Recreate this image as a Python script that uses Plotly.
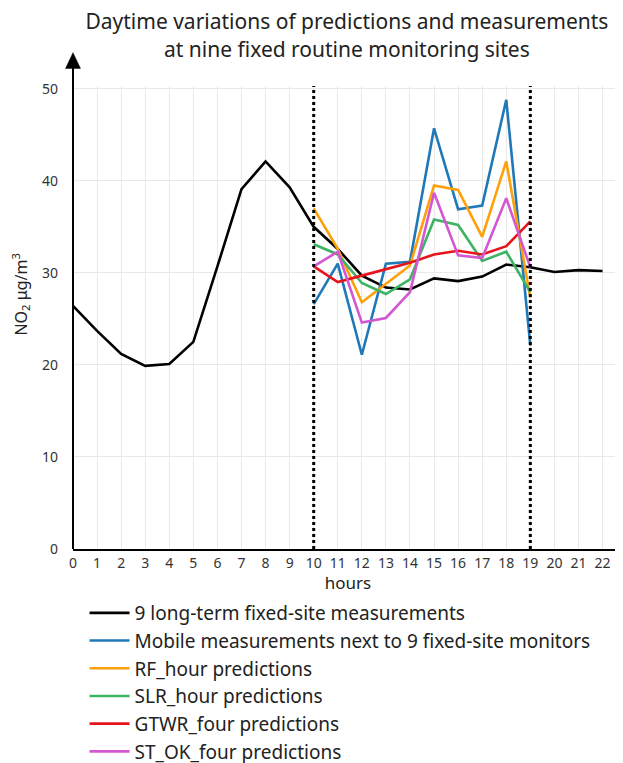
import plotly.graph_objects as go

hours_all = list(range(0, 23))
hours_mid = list(range(10, 20))

fixed_site = [26.4, 23.7, 21.2, 19.9, 20.1, 22.5, 30.7, 39.1, 42.1, 39.3, 35.0,
              32.6, 29.7, 28.4, 28.2, 29.4, 29.1, 29.6, 30.9, 30.6, 30.1, 30.3, 30.2]
mobile = [26.6, 31.0, 21.1, 31.0, 31.2, 45.7, 36.9, 37.3, 48.8, 22.1]
rf_hour = [37.0, 32.6, 26.8, 28.8, 30.8, 39.5, 39.0, 33.9, 42.1, 27.3]
slr_hour = [33.1, 32.0, 28.9, 27.7, 29.3, 35.8, 35.2, 31.3, 32.3, 27.9]
gtwr_four = [30.7, 29.0, 29.7, 30.4, 31.1, 32.0, 32.4, 32.0, 32.9, 35.6]
st_ok_four = [30.7, 32.3, 24.6, 25.1, 27.9, 38.7, 31.9, 31.6, 38.1, 30.6]

series = [
    ("9 long-term fixed-site measurements", hours_all, fixed_site, "#000000"),
    ("Mobile measurements next to 9 fixed-site monitors", hours_mid, mobile, "#1f78b8"),
    ("RF_hour predictions", hours_mid, rf_hour, "#ffa00a"),
    ("SLR_hour predictions", hours_mid, slr_hour, "#3cb464"),
    ("GTWR_four predictions", hours_mid, gtwr_four, "#e8141c"),
    ("ST_OK_four predictions", hours_mid, st_ok_four, "#d257d0"),
]

fig = go.Figure()
for i, (name, x, y, c) in enumerate(series):
    fig.add_trace(go.Scatter(x=x, y=y, mode="lines", name=name,
                             line=dict(color=c, width=2.6),
                             legendgroup=f"g{i}"))

# dotted vertical markers at 10 and 19
for xv in (10, 19):
    fig.add_shape(type="line", xref="x", yref="paper", x0=xv, x1=xv, y0=0, y1=1,
                  line=dict(color="black", width=3, dash="dot"))

# y axis arrow
fig.add_shape(type="line", xref="paper", yref="paper", x0=0, x1=0, y0=0, y1=1.045,
              line=dict(color="black", width=2))
fig.add_shape(type="path", xref="paper", yref="paper",
              path="M -0.0136 1.038 L 0.0136 1.038 L 0 1.072 Z",
              fillcolor="black", line=dict(color="black", width=0.5))

fig.add_annotation(xref="paper", yref="paper", x=-0.095, y=0.549,
                   xanchor="center", yanchor="middle",
                   text="NO<sub>2</sub> μg/m<sup>3</sup>", textangle=-90,
                   showarrow=False, font=dict(size=16, color="#222"))

fig.update_layout(
    width=623, height=763,
    margin=dict(l=64.5, r=8, t=78, b=222, autoexpand=False),
    paper_bgcolor="white", plot_bgcolor="white",
    font=dict(family="Noto Sans", color="#333"),
    title=dict(text="Daytime variations of predictions and measurements<br>at nine fixed routine monitoring sites",
               x=0.544, xanchor="center", y=0.972, yanchor="top",
               font=dict(size=21, color="#222")),
    xaxis=dict(range=[0, 22.85], tickmode="array", tickvals=hours_all,
               ticktext=[str(h) for h in hours_all],
               showgrid=True, gridcolor="#e9e9e9", gridwidth=1,
               showline=True, linecolor="black", linewidth=2,
               zeroline=False, tickfont=dict(size=14, color="#333"),
               title=dict(text="hours", font=dict(size=17, color="#222"), standoff=9)),
    yaxis=dict(range=[0, 50.3], tickvals=[0, 10, 20, 30, 40, 50],
               showgrid=True, gridcolor="#e9e9e9", gridwidth=1,
               showline=False, zeroline=False,
               tickfont=dict(size=14, color="#333"), ticklabelstandoff=14),
    showlegend=True,
    legend=dict(x=0.021, y=0.232, xref="paper", yref="container",
                xanchor="left", yanchor="top",
                font=dict(size=19, color="#222"), tracegroupgap=0,
                traceorder="grouped", itemwidth=40, bgcolor="rgba(0,0,0,0)"),
)

fig.write_html("out.html")
